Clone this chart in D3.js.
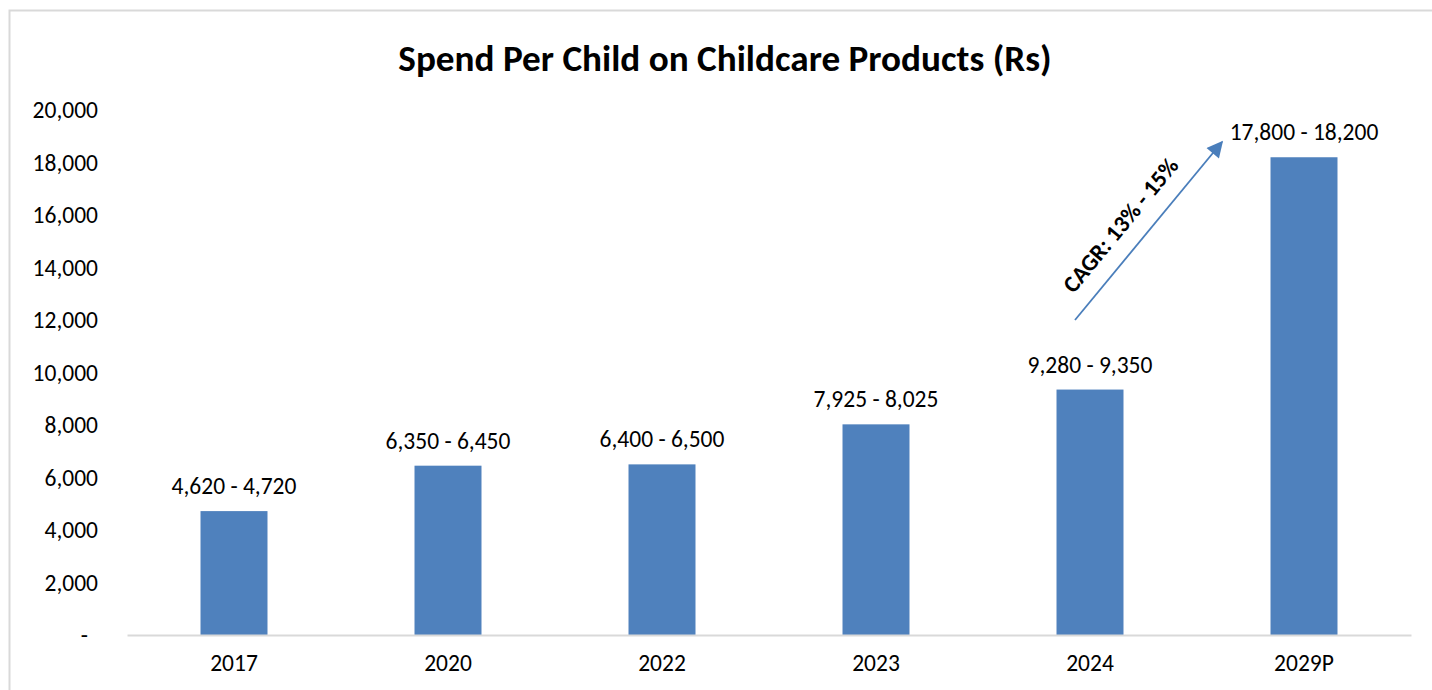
<!DOCTYPE html>
<html>
<head>
<meta charset="utf-8">
<script src="https://cdn.jsdelivr.net/npm/d3@7"></script>
<style>
  body { margin: 0; background: #fff; }
  text { font-family: Carlito, Lato, sans-serif; fill: #000; }
</style>
</head>
<body>
<div id="chart-container"></div>
<script>
const categories = ["2017", "2020", "2022", "2023", "2024", "2029P"];
const lowValues = [4620, 6350, 6400, 7925, 9280, 17800];
const highValues = [4720, 6450, 6500, 8025, 9350, 18200];
const yTicks = [0, 2000, 4000, 6000, 8000, 10000, 12000, 14000, 16000, 18000, 20000];
const cagrLabel = "CAGR: 13% - 15%";
// arrow runs from 2024 (at 12,000) up to just left of the 2029P label
const cagrArrow = { from: ["2024", -15, 12000], to: ["2029P", -82, 18780] };

const W = 1432, H = 690;
const margin = { top: 110, right: 21, bottom: 55, left: 127 };
const width = W - margin.left - margin.right;
const height = H - margin.top - margin.bottom;
const fontFam = "Carlito, Lato, sans-serif";

const data = categories.map((c, i) => ({ cat: c, low: lowValues[i], high: highValues[i] }));

const svg = d3.select("#chart-container")
  .append("svg")
  .attr("width", W)
  .attr("height", H);

// outer frame
svg.append("rect")
  .attr("x", 9.5).attr("y", 10.5)
  .attr("width", W + 20).attr("height", H + 20)
  .attr("fill", "none")
  .attr("stroke", "#d9d9d9")
  .attr("stroke-width", 2);

svg.append("text")
  .attr("x", 725)
  .attr("y", 58)
  .attr("text-anchor", "middle")
  .attr("dominant-baseline", "central")
  .style("font-size", "37.2px")
  .style("font-weight", "bold")
  .text("Spend Per Child on Childcare Products (Rs)");

const g = svg.append("g").attr("transform", `translate(${margin.left}, ${margin.top})`);

const x = d3.scaleBand().domain(categories).range([0, width]).padding(0);
const y = d3.scaleLinear().domain([0, 20000]).range([height, 0]);
const barW = x.bandwidth() * 0.313;

// y axis labels
const yAxis = g.append("g")
  .call(d3.axisLeft(y).tickValues(yTicks).tickSize(0).tickPadding(29)
    .tickFormat(d => d === 0 ? "-" : d3.format(",")(d)));
yAxis.select(".domain").remove();
yAxis.selectAll(".tick text")
  .style("font-size", "23.5px")
  .style("font-family", fontFam)
  .attr("fill", "#000")
  .attr("dx", d => d === 0 ? -10 : 0);

// bars
g.selectAll(".bar")
  .data(data)
  .enter()
  .append("rect")
  .attr("class", "bar")
  .attr("x", d => x(d.cat) + (x.bandwidth() - barW) / 2)
  .attr("y", d => y(d.high))
  .attr("width", barW)
  .attr("height", d => height - y(d.high))
  .attr("fill", "#4f81bd");

// x axis
const xAxis = g.append("g")
  .attr("transform", `translate(0, ${height})`)
  .call(d3.axisBottom(x).tickSize(0).tickPadding(19));
xAxis.select(".domain").attr("stroke", "#d9d9d9").attr("stroke-width", 2);
xAxis.selectAll(".tick text")
  .style("font-size", "23.5px")
  .style("font-family", fontFam)
  .attr("fill", "#000");

// value labels
g.selectAll(".val")
  .data(data)
  .enter()
  .append("text")
  .attr("class", "val")
  .attr("x", d => x(d.cat) + x.bandwidth() / 2)
  .attr("y", d => y(d.high) - 25)
  .attr("text-anchor", "middle")
  .attr("dominant-baseline", "central")
  .style("font-size", "23.5px")
  .text(d => `${d3.format(",")(d.low)} - ${d3.format(",")(d.high)}`);

// CAGR arrow
svg.append("defs").append("marker")
  .attr("id", "arrowhead")
  .attr("viewBox", "0 0 10 10")
  .attr("refX", 9).attr("refY", 5)
  .attr("markerWidth", 10).attr("markerHeight", 9)
  .attr("markerUnits", "strokeWidth")
  .attr("orient", "auto")
  .append("path")
  .attr("d", "M0,0 L10,5 L0,10 z")
  .attr("fill", "#4a7ebb");

const ax1 = x(cagrArrow.from[0]) + x.bandwidth() / 2 + cagrArrow.from[1];
const ay1 = y(cagrArrow.from[2]);
const ax2 = x(cagrArrow.to[0]) + x.bandwidth() / 2 + cagrArrow.to[1];
const ay2 = y(cagrArrow.to[2]);

g.append("line")
  .attr("x1", ax1).attr("y1", ay1)
  .attr("x2", ax2).attr("y2", ay2)
  .attr("stroke", "#4a7ebb")
  .attr("stroke-width", 1.8)
  .attr("marker-end", "url(#arrowhead)");

const angle = Math.atan2(ay2 - ay1, ax2 - ax1) * 180 / Math.PI;
const mx = (ax1 + ax2) / 2 - 28, my = (ay1 + ay2) / 2 - 6;
g.append("text")
  .attr("transform", `translate(${mx}, ${my}) rotate(${angle})`)
  .attr("text-anchor", "middle")
  .attr("dominant-baseline", "central")
  .style("font-size", "23.5px")
  .style("font-weight", "bold")
  .text(cagrLabel);
</script>
</body>
</html>
